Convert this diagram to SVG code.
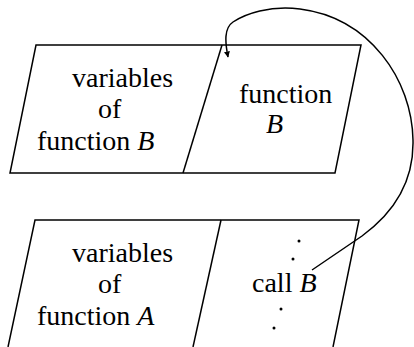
<svg xmlns="http://www.w3.org/2000/svg" width="414" height="347" viewBox="0 0 414 347">
<style>
.s{fill:none;stroke:#000;stroke-width:1.5}
.i{font-style:italic}
</style>
<defs>
<marker id="ah" viewBox="0 0 10 10" refX="9" refY="5" markerWidth="6" markerHeight="6" markerUnits="userSpaceOnUse" orient="auto">
<path d="M0,0 L10,5 L0,10 Z" fill="#000"/>
</marker>
</defs>
<rect width="414" height="347" fill="#fff"/>
<g font-family="Liberation Serif, DejaVu Serif, serif" font-size="28" fill="#000">
<g id="frameB">
<polygon class="s" points="36,45 361,45 335,173 10,173"/>
<line class="s" x1="222" y1="45" x2="183" y2="173"/>
<g id="varsB">
<text x="72" y="87">variables</text>
<text x="98" y="118">of</text>
<text x="37" y="150">function <tspan class="i">B</tspan></text>
</g>
<g id="funcB">
<text x="239" y="103">function</text>
<text class="i" x="266" y="133">B</text>
</g>
</g>
<g id="frameA">
<polyline class="s" points="8,347 35,220 359,220 333,347"/>
<line class="s" x1="221" y1="220" x2="193" y2="347"/>
<g id="varsA">
<text x="72" y="262">variables</text>
<text x="98" y="293">of</text>
<text x="37" y="325">function <tspan class="i">A</tspan></text>
</g>
<g id="funcA">
<circle cx="299" cy="241" r="1.5"/>
<circle cx="293" cy="259" r="1.5"/>
<text x="252" y="292">call <tspan class="i">B</tspan></text>
<circle cx="281" cy="309" r="1.5"/>
<circle cx="274" cy="328" r="1.5"/>
</g>
</g>
</g>
<g id="connectors">
<path class="s" marker-end="url(#ah)" d="M312,270 L362,236 C395,212 414,180 413,140 C412,80 370,18 300,9 C270,5 245,14 233,22 C224,28 225,42 228,57"/>
</g>
</svg>
